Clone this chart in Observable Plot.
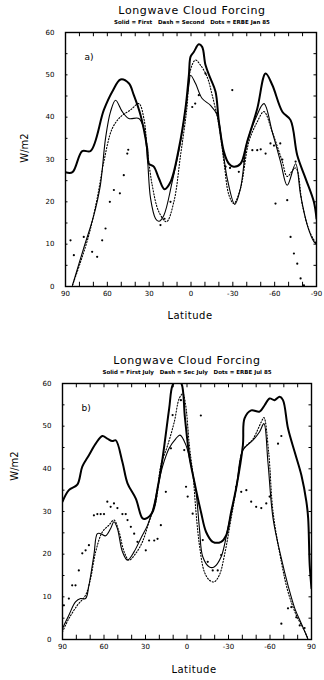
<!DOCTYPE html>
<html><head><meta charset="utf-8">
<script src="https://cdn.jsdelivr.net/npm/d3@7"></script>
<script src="https://cdn.jsdelivr.net/npm/@observablehq/plot@0.6"></script>
<style>
body{margin:0;background:#fff;}
#wrap{position:relative;width:324px;height:680px;overflow:hidden;font-family:"DejaVu Sans",sans-serif;color:#000}
.t{position:absolute;white-space:pre;transform:translateX(-50%);}
.panel{position:absolute;left:0;}
.yl{position:absolute;white-space:nowrap;transform:translate(-50%,-50%) rotate(-90deg);font-size:10px;}
</style></head><body><div id="wrap"></div>
<script>
// ---------- text ----------
const titleText = "Longwave Cloud Forcing";
const subtitleA = "Solid = First   Dash = Second   Dots = ERBE Jan 85";
const subtitleB = "Solid = First July   Dash = Sec July   Dots = ERBE Jul 85";
const yLabel = "W/m2";
const xLabel = "Latitude";

// ---------- ticks ----------
const yTicks = [0, 10, 20, 30, 40, 50, 60];
const yMinorTicks = [5, 10, 15, 20, 25, 30, 35, 40, 45, 50, 55];
const xTicks = [90, 60, 30, 0, -30, -60, -90];
const xLabelsA = ["90", "60", "30", "0", "-30", "-60", "-90"];
const xLabelsB = ["90", "60", "30", "0", "-30", "-60", "90"];
const xMinorTicks = [80, 70, 60, 50, 40, 30, 20, 10, 0, -10, -20, -30, -40, -50, -60, -70, -80];

// ---------- panel a (January) ----------
const aThickLat = [90, 85, 78, 72, 62.5, 56.5, 50.5, 44.6, 41, 36.2, 31.4, 30.2, 26.7, 23, 19, 14.7, 8.7, 4, 1.5, 0.3, -2, -5.6, -8, -10.4, -14, -17.6, -20, -23.6, -27.2, -30.7, -35.5, -40.3, -47.5, -53.5, -58.3, -65.5, -71.4, -76.2, -82.2, -88.1, -90];
const aThickVal = [27, 27, 32, 32, 41.7, 46, 48.9, 48, 45.2, 40.5, 32.6, 29, 28.3, 25.5, 23, 24.7, 32.6, 42, 50, 54.3, 55.4, 57.2, 56.6, 52.3, 49.1, 46, 38.9, 31.8, 29, 28.3, 29, 34.2, 42, 50.3, 47.6, 41.3, 39.3, 31, 25.5, 20, 16];

const aThinLat = [85, 77, 69.7, 65, 61.3, 57.7, 54.1, 49.3, 44.6, 37.4, 33.8, 31.4, 29, 25.4, 23, 19.5, 13.5, 7.5, 1.5, 0.3, -3.2, -8, -14, -18.8, -22.4, -26, -31.4, -35.5, -40.3, -46.3, -52.3, -58.3, -64.2, -69, -75, -78.6, -83.4, -88.1, -90];
const aThinVal = [0.3, 9, 16.8, 23.9, 35, 41.3, 44, 41.3, 39.7, 39.7, 37.3, 31, 20.8, 16, 15.4, 16.8, 24.7, 34.2, 47.6, 49.9, 48, 44.4, 42.8, 40.5, 33.4, 25.5, 19.4, 23.2, 34.2, 39.7, 43.2, 36.5, 29.5, 23.9, 29, 21.6, 14.5, 10.6, 10];

const aDashLat = [85, 79.2, 73.3, 67.3, 62.5, 56.5, 50.5, 43.4, 37.4, 33.8, 31.4, 27.8, 23, 17.6, 12.3, 7.5, 3, 0.5, -3.2, -6.8, -11.6, -15.2, -20, -23.6, -27.2, -30.7, -35.5, -41.5, -47.5, -52.3, -58.3, -65.5, -69, -75, -80, -85, -90];
const aDashVal = [0.3, 5.8, 12.1, 20.8, 29.5, 37.3, 40.1, 41.7, 43.2, 39.7, 32.6, 23.9, 17.6, 15.3, 20, 31, 42, 51, 53.5, 52.3, 49.5, 45.2, 38.1, 29.5, 21.6, 19.6, 23.2, 34.2, 38.9, 41.3, 36.5, 29.5, 26, 28, 19, 13, 10];

const aErbeLat = [86.4, 84, 76.9, 70.9, 67.3, 63.7, 61.3, 58.2, 55.3, 51, 48.2, 45.7, 45, 21.9, 19, 14.7, -0.9, -3, -5.6, -10.4, -24.8, -28, -29.6, -34.3, -38, -44, -47.5, -50, -53.5, -57, -59.5, -60.6, -64, -65.5, -69, -71.4, -73.8, -75, -76.2, -78.6, -81];
const aErbeVal = [10.9, 7.4, 11.7, 8.2, 7, 10.9, 13.7, 20, 22.8, 22, 26.3, 31.4, 32.3, 14.5, 16, 20, 42.4, 43.2, 45.2, 50.3, 28.3, 28, 46.4, 27.1, 29.5, 32.2, 32.2, 32.4, 31.4, 33.8, 33.3, 19.6, 33.8, 30, 20.4, 11.7, 7.8, 29.5, 5.4, 1.9, 0.3];

// ---------- panel b (July) ----------
const bThickLat = [90, 85.4, 79.3, 75.7, 70.9, 66, 61.2, 57.6, 54, 51.5, 46.7, 43, 37, 32.2, 30, 24.9, 21.3, 17.7, 12.9, 10.4, 7, 4, 1.5, -1.7, -5.3, -10.1, -13.8, -18.6, -24.7, -28.3, -31.9, -35.5, -40.4, -41.6, -46.4, -52.5, -56.1, -59.7, -63.3, -67, -69.4, -73, -77.8, -82.7, -86.3, -87.6, -88.7, -90];
const bThickVal = [32.3, 35, 36.3, 40.5, 43.2, 45.9, 47.7, 47.1, 46.5, 46.7, 41.6, 36.6, 33, 28.4, 28.3, 29.9, 35.4, 42.4, 54.1, 59.6, 61, 60, 52, 43, 37, 29.9, 25.2, 22.9, 22.9, 24.4, 29.9, 35.4, 45.5, 51.8, 53.7, 53.4, 54.9, 56.5, 56.1, 56.9, 56.1, 49.5, 44, 38.5, 32.3, 28.4, 17.4, 12];

const bThinLat = [90, 85.4, 80.6, 76.9, 73.3, 70.9, 67.3, 64.8, 62.4, 58.8, 55.2, 52.8, 50.3, 46.7, 43, 38.2, 33.4, 28.5, 24.9, 21.3, 17.7, 12.9, 8, 5, 0.7, -2.9, -6.5, -9, -11.4, -16.2, -19.6, -24.7, -29.5, -35.5, -40.4, -47.7, -52.5, -55.6, -58.5, -62.2, -68.2, -73, -77.9, -82.7, -86.3, -87.5];
const bThinVal = [2.6, 5.7, 8.8, 9.6, 9.6, 12.7, 19.8, 24.8, 24.8, 24.3, 26, 27.6, 26, 20.6, 18.6, 20.6, 23.7, 26.8, 30.3, 35.4, 40.5, 44.8, 47.1, 47.9, 45.5, 40.8, 34.6, 26, 19.4, 17, 17, 19.4, 26, 35.4, 44.4, 46.7, 48.7, 50.6, 41.6, 28.4, 19, 12.7, 7.3, 3.7, 1, 0];

const bDashLat = [90, 85.4, 79.3, 73.3, 69.7, 66, 61.2, 56.4, 52.8, 49.1, 45.5, 41.9, 37, 32.2, 27.4, 22.5, 18.9, 14, 9.2, 5.6, 3, 1, -1.7, -4.5, -6.5, -9, -12.5, -16.2, -19.6, -23.4, -27.1, -31.9, -36.8, -40.4, -47.7, -53.7, -55.6, -59, -62.2, -68.2, -73, -79, -84, -87];
const bDashVal = [1.8, 4.9, 8, 10.4, 14.3, 20.6, 25.2, 26.8, 28, 25.2, 20.6, 18.6, 20.2, 22.9, 27.6, 32.3, 40.8, 45.5, 51, 56.5, 57.6, 55, 45.5, 38, 29.9, 22.1, 15.9, 13.9, 13.5, 15.1, 19.8, 28.4, 37.7, 44.4, 47, 51, 52, 44, 29.9, 18.2, 11.2, 5.7, 2.6, 0.5];

const bErbeLat = [89, 85.4, 83, 80.6, 78.2, 75.7, 73.3, 70.9, 67.3, 64.8, 62.4, 60, 57.6, 55.2, 52.8, 50.3, 46.7, 44.3, 43, 40.6, 38.2, 35.8, 29.8, 27.4, 23.7, 21.3, 18.9, 15.3, 11.6, 10.4, 4.4, 2, 0.7, -0.5, -4.1, -10, -11.4, -15, -18.6, -22.2, -24.7, -35.5, -39.2, -42.9, -46.4, -50, -53.7, -57.3, -59.7, -65.8, -68.2, -68.2, -73, -75.4, -79, -81.5, -85];
const bErbeVal = [8, 9.6, 12.7, 12.7, 16.2, 20.2, 20.9, 22.1, 29.1, 29.4, 29.4, 29.4, 32.3, 31.1, 31.9, 30.8, 29.4, 29.4, 28, 26.4, 24.8, 22.9, 20.9, 23.2, 23.2, 23.6, 26.8, 34.6, 44.8, 52.6, 56.1, 44.4, 35.8, 33.5, 29.5, 52.5, 23.3, 18.2, 16.2, 16.2, 19.8, 35.8, 34.6, 35, 32.3, 31.1, 30.8, 31.9, 33.5, 45.9, 47.7, 3.7, 7.3, 7.6, 5.2, 3.3, 2.7];

const zip = (lat, val) => lat.map((l, i) => ({lat: l, v: val[i]}));

function panel({thick, thin, dash, erbe, tag, xLabels, margins}) {
  return Plot.plot({
    width: 324,
    height: 340,
    ...margins,
    style: {fontFamily: "DejaVu Sans, sans-serif", color: "#000", background: "transparent"},
    x: {domain: [90, -90], axis: null},
    y: {domain: [0, 60], axis: null},
    marks: [
      Plot.axisY(yTicks, {anchor: "left", tickSize: 0, tickPadding: 11, fontSize: 7, label: null}),
      Plot.axisX(xTicks, {anchor: "bottom", tickSize: 0, tickPadding: 5, fontSize: 7, label: null,
        tickFormat: d => xLabels[xTicks.indexOf(d)]}),
      Plot.ruleY(yMinorTicks, {y: d => d, x1: 90, x2: 88.2, strokeWidth: 1}),
      Plot.ruleY(yMinorTicks, {y: d => d, x1: -90, x2: -88.2, strokeWidth: 1}),
      Plot.ruleX(xMinorTicks, {x: d => d, y1: 60, y2: 59, strokeWidth: 1}),
      Plot.ruleX(xMinorTicks, {x: d => d, y1: 0, y2: 1, strokeWidth: 1}),
      Plot.line(zip(...thick), {x: "lat", y: "v", stroke: "#000", strokeWidth: 2, curve: "catmull-rom", clip: true}),
      Plot.line(zip(...thin), {x: "lat", y: "v", stroke: "#000", strokeWidth: 1.1, curve: "catmull-rom", clip: true}),
      Plot.line(zip(...dash), {x: "lat", y: "v", stroke: "#000", strokeWidth: 1.1, strokeDasharray: "1.2,1.8", curve: "catmull-rom", clip: true}),
      Plot.dot(zip(...erbe), {x: "lat", y: "v", r: 1.1, fill: "#000", stroke: null}),
      Plot.text([tag], {frameAnchor: "top-left", dx: 19, dy: 21, fontSize: 9}),
      Plot.frame({stroke: "#000", strokeWidth: 1.4})
    ]
  });
}

const wrap = document.getElementById("wrap");
function addText(cls, txt, left, top, css) {
  const d = document.createElement("div");
  d.className = cls; d.textContent = txt;
  d.style.left = left + "px"; d.style.top = top + "px";
  Object.assign(d.style, css || {});
  wrap.appendChild(d);
}

const pa = panel({
  thick: [aThickLat, aThickVal], thin: [aThinLat, aThinVal], dash: [aDashLat, aDashVal], erbe: [aErbeLat, aErbeVal],
  tag: "a)", xLabels: xLabelsA,
  margins: {marginTop: 32, marginBottom: 54, marginLeft: 65, marginRight: 8}
});
pa.classList.add("panel"); pa.style.top = "0px";
wrap.appendChild(pa);

const pb = panel({
  thick: [bThickLat, bThickVal], thin: [bThinLat, bThinVal], dash: [bDashLat, bDashVal], erbe: [bErbeLat, bErbeVal],
  tag: "b)", xLabels: xLabelsB,
  margins: {marginTop: 43, marginBottom: 41, marginLeft: 62, marginRight: 13}
});
pb.classList.add("panel"); pb.style.top = "340px";
wrap.appendChild(pb);

addText("t", titleText, 192, 4, {fontSize: "11px", letterSpacing: "0.6px"});
addText("t", subtitleA, 192, 19, {fontSize: "5.5px", fontWeight: "bold"});
addText("t", xLabel, 190, 310, {fontSize: "10px", letterSpacing: "0.5px"});
addText("yl", yLabel, 24, 148);

addText("t", titleText, 187, 354, {fontSize: "11px", letterSpacing: "0.6px"});
addText("t", subtitleB, 187, 369, {fontSize: "5.5px", fontWeight: "bold"});
addText("t", xLabel, 194, 664, {fontSize: "10px", letterSpacing: "0.5px"});
addText("yl", yLabel, 14, 466);
</script>
</body></html>
